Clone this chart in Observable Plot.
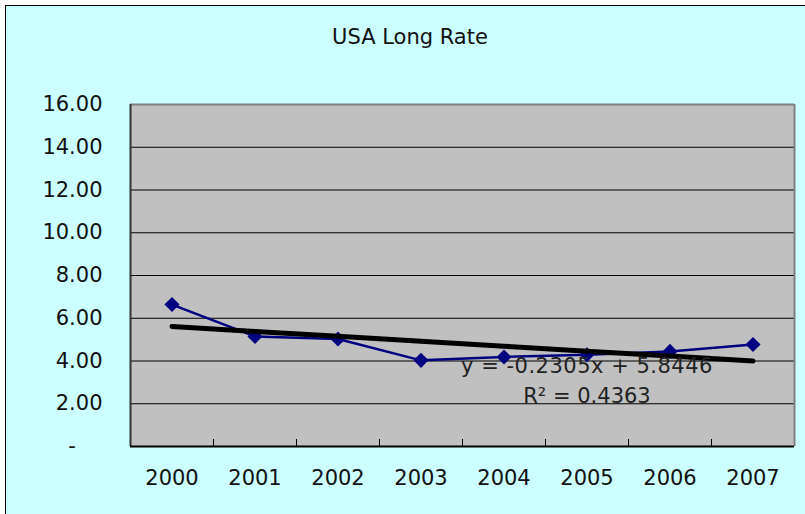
<!DOCTYPE html>
<html><head><meta charset="utf-8">
<script src="https://cdn.jsdelivr.net/npm/d3@7"></script>
<script src="https://cdn.jsdelivr.net/npm/@observablehq/plot@0.6"></script>
<style>
body{margin:0;background:#fff;}
#wrap{position:relative;width:805px;height:514px;overflow:hidden;font-family:"DejaVu Sans",sans-serif;}
#bg{position:absolute;left:5px;top:5px;width:820px;height:530px;background:#CCFFFF;border-left:1.5px solid #000;border-top:1.5px solid #000;}
#title{position:absolute;left:0;width:820px;top:25px;text-align:center;font-size:21px;color:#111;line-height:normal;}
#plot{position:absolute;left:0;top:0;}
</style></head>
<body>
<div id="wrap"><div id="bg"></div><div id="title">USA Long Rate</div><div id="plot"></div></div>
<script>
const years = ["2000","2001","2002","2003","2004","2005","2006","2007"];
const rates = [6.64, 5.15, 5.03, 4.03, 4.19, 4.29, 4.45, 4.77];
const yTicks = [0,2,4,6,8,10,12,14,16];
const trendSlope = -0.2305, trendIntercept = 5.8446, rSquared = 0.4363;

const rows = years.map((y,i)=>({x:i+1, year:y, rate:rates[i]}));
const trend = rows.map(d=>({x:d.x, v: trendIntercept + trendSlope*d.x}));
const centers = years.map((y,i)=>i+1);
const bounds = years.slice(1).map((y,i)=>i+1.5);
const eqText = `y = ${trendSlope.toFixed(4)}x + ${trendIntercept.toFixed(4)}`;
const r2Text = `R² = ${rSquared.toFixed(4)}`;

const chart = Plot.plot({
  width:805, height:514,
  marginLeft:130, marginRight:11, marginTop:104, marginBottom:68,
  x:{type:"linear", domain:[0.5,8.5]},
  y:{domain:[0,16]},
  style:{fontFamily:"DejaVu Sans", fontSize:"21px", background:"transparent", color:"#111", overflow:"visible"},
  marks:[
    Plot.frame({fill:"#C0C0C0", stroke:null}),
    Plot.ruleY(yTicks.filter(t=>t>0&&t<16), {stroke:"#000", strokeWidth:1}),
    Plot.ruleY([16], {stroke:"#808080", strokeWidth:2}),
    Plot.ruleX([8.5], {stroke:"#808080", strokeWidth:2}),
    Plot.ruleX([0.5], {stroke:"#333", strokeWidth:2}),
    Plot.ruleY([0], {stroke:"#000", strokeWidth:2}),
    Plot.axisY(yTicks, {tickSize:0, tickPadding:28, label:null, fontSize:21, fill:"#111",
      tickFormat: d => d === 0 ? "-\u2007\u2007" : d.toFixed(2)}),
    Plot.axisX(bounds, {tickSize:7, dy:-7, label:null, stroke:"#000", tickFormat:()=>""}),
    Plot.axisX(centers, {tickSize:0, tickPadding:24, label:null, fontSize:21, fill:"#111",
      tickFormat: i => years[i-1]}),
    Plot.line(rows, {x:"x", y:"rate", stroke:"#000080", strokeWidth:2.5}),
    Plot.dot(rows, {x:"x", y:"rate", symbol:"diamond2", r:6.8, fill:"#000080", stroke:null}),
    Plot.line(trend, {x:"x", y:"v", stroke:"#000", strokeWidth:5}),
    Plot.text([eqText], {x:6, y:3.76, text:d=>d, fontSize:21, fill:"#222", textAnchor:"middle"}),
    Plot.text([r2Text], {x:6, y:2.36, text:d=>d, fontSize:21, fill:"#222", textAnchor:"middle"})
  ]
});
d3.select(chart).selectAll("text").filter(function(){return this.textContent.startsWith("y =");}).attr("letter-spacing","0.5px");
document.getElementById("plot").appendChild(chart);
</script>
</body></html>
